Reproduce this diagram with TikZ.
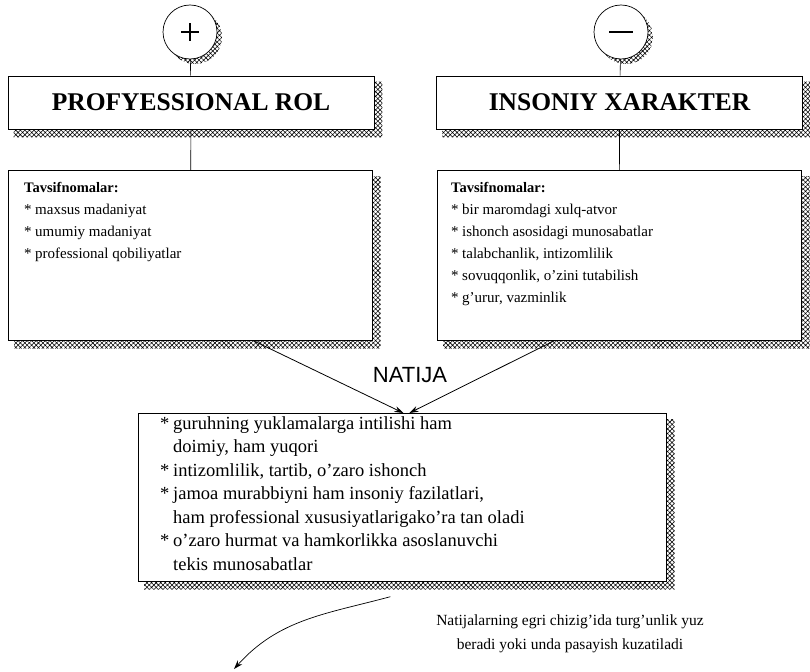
\documentclass[tikz,border=0pt]{standalone}
\usepackage{fontspec}
\setmainfont{Liberation Serif}
\newfontfamily\natfont{Liberation Sans}
\usetikzlibrary{arrows.meta}
\usetikzlibrary{positioning,calc,patterns.meta,backgrounds}

\newcommand{\itm}{\makebox[11pt][l]{*}}
\newcommand{\ritm}{\makebox[13pt][l]{*}}
\newcommand{\cnt}{\hspace*{13pt}}
% hatched shadow on the right and below a box
\newcommand{\hatchbox}[1]{%
  \fill[hatchfill] ([yshift=-6pt]#1.north east) -- ([xshift=8pt,yshift=-6pt]#1.north east)
    -- ([xshift=8pt,yshift=-8pt]#1.south east) -- ([xshift=6pt,yshift=-8pt]#1.south west)
    -- ([xshift=6pt]#1.south west) -- (#1.south east) -- cycle;}

\begin{document}
\begin{tikzpicture}[x=1pt,y=-1pt,
  hatchfill/.style={pattern={Hatch[angle=45,distance=3.2pt,line width=.55pt]}},
  titlebox/.style={draw,line width=.7pt,minimum width=366pt,minimum height=53pt,
    font=\fontsize{25.5pt}{28pt}\bfseries},
  descbox/.style={draw,line width=.7pt,anchor=north west,minimum width=364pt,minimum height=170pt},
  listtext/.style={anchor=north west,align=left,inner sep=0pt,font=\fontsize{15pt}{22pt}\selectfont},
  sign/.style={draw,circle,line width=.7pt,fill=white,minimum size=54pt,inner sep=0pt},
  link/.style={line width=.6pt},
  arr/.style={line width=.8pt,-{Stealth[length=9pt,width=6pt]}}]
  \useasboundingbox (0,0) rectangle (810,671);

  % Signs and titles
  \node[sign] (plus) at (190,32) {};
  \draw[line width=1.4pt] ([xshift=-9pt]plus.center) -- ([xshift=9pt]plus.center)
    ([yshift=-9pt]plus.center) -- ([yshift=9pt]plus.center);
  \node[sign] (minus) at (621,32) {};
  \draw[line width=1.4pt] ([xshift=-12pt]minus.center) -- ([xshift=12pt]minus.center);
  \node[titlebox] (prof) at (191,102.5) {PROFYESSIONAL ROL};
  \node[titlebox] (inson) at (619.5,102.5) {INSONIY XARAKTER};

  % Description boxes
  \node[descbox] (pdesc) at (8,170) {};
  \node[descbox] (idesc) at (437,170) {};
  \node[listtext] (plist) at ([xshift=16pt,yshift=-12pt]pdesc.north west) {%
    \textbf{\fontsize{14.5pt}{22pt}\selectfont Tavsifnomalar:}\\
    \itm maxsus madaniyat\\
    \itm umumiy madaniyat\\
    \itm professional qobiliyatlar};
  \node[listtext] (ilist) at ([xshift=14pt,yshift=-12pt]idesc.north west) {%
    \textbf{\fontsize{14.5pt}{22pt}\selectfont Tavsifnomalar:}\\
    \itm bir maromdagi xulq-atvor\\
    \itm ishonch asosidagi munosabatlar\\
    \itm talabchanlik, intizomlilik\\
    \itm sovuqqonlik, o'zini tutabilish\\
    \itm g'urur, vazminlik};

  % Result
  \node[draw,line width=.7pt,anchor=north west,minimum width=528pt,minimum height=168pt] (res) at (138,413) {};
  \node[listtext,font=\fontsize{18.5pt}{23.5pt}\selectfont] (rlist) at ([xshift=22pt,yshift=-3pt]res.north west) {%
    \ritm guruhning yuklamalarga intilishi ham\\
    \cnt doimiy, ham yuqori\\
    \ritm intizomlilik, tartib, o'zaro ishonch\\
    \ritm jamoa murabbiyni ham insoniy fazilatlari,\\
    \cnt ham professional xususiyatlarigako'ra tan oladi\\
    \ritm o'zaro hurmat va hamkorlikka asoslanuvchi\\
    \cnt tekis munosabatlar};
  \node[font=\natfont\fontsize{22pt}{24pt}\selectfont] (natija) at (410,375) {NATIJA};
  \node[align=center,font=\fontsize{15.5pt}{24pt}\selectfont] (izoh) at (570,634)
    {Natijalarning egri chizig'ida turg'unlik yuz\\ beradi yoki unda pasayish kuzatiladi};
  \coordinate (egri) at (234,669);

  % Shadows
  \begin{scope}[on background layer]
    \hatchbox{prof} \hatchbox{inson} \hatchbox{pdesc} \hatchbox{idesc} \hatchbox{res}
    \fill[hatchfill] ([shift={(5pt,-5pt)}]plus.center) circle (27pt);
    \fill[hatchfill] ([shift={(5pt,-5pt)}]minus.center) circle (27pt);
  \end{scope}

  % Connectors
  \draw[link] (plus) -- (prof);
  \draw[link] (minus) -- (inson);
  \draw[link] (prof) -- (pdesc);
  \draw[link] (inson) -- (idesc);
  \draw[arr] ([xshift=63pt]pdesc.south) -- ([xshift=1pt]res.north);
  \draw[arr] ([xshift=-65pt]idesc.south) -- ([xshift=7pt]res.north);
  \draw[arr,line width=.7pt] ([xshift=-12pt,yshift=-15pt]res.south) to[out=195,in=48] (egri);
\end{tikzpicture}
\end{document}
